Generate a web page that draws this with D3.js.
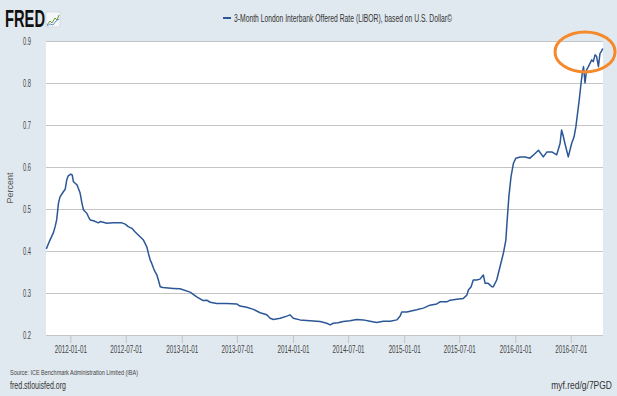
<!DOCTYPE html>
<html>
<head>
<meta charset="utf-8">
<script src="https://cdn.jsdelivr.net/npm/d3@7"></script>
<style>
  body { margin: 0; background: #e1e9f0; }
  svg { display: block; font-family: "Liberation Sans", Arial, sans-serif; }
</style>
</head>
<body>
<div id="chart"></div>
<script>
// 3-Month LIBOR (USD)
const dates = [
  "2011-10-14", "2011-10-26", "2011-11-06", "2011-11-12", "2011-11-17", "2011-11-23", "2011-11-28",
  "2011-12-09", "2011-12-15", "2011-12-20", "2011-12-25", "2012-01-02", "2012-01-07", "2012-01-11",
  "2012-01-16", "2012-01-23", "2012-02-02", "2012-02-08", "2012-02-13", "2012-02-18", "2012-02-24",
  "2012-02-29", "2012-03-06", "2012-03-17", "2012-04-02", "2012-04-08", "2012-04-30", "2012-05-20",
  "2012-06-18", "2012-06-29", "2012-07-09", "2012-07-21", "2012-07-31", "2012-08-17", "2012-08-28",
  "2012-09-08", "2012-09-13", "2012-09-19", "2012-09-24", "2012-09-30", "2012-10-05", "2012-10-11",
  "2012-10-16", "2012-10-22", "2012-10-31", "2012-12-04", "2012-12-26", "2013-01-28", "2013-02-19",
  "2013-03-12", "2013-03-24", "2013-04-04", "2013-04-26", "2013-05-29", "2013-06-30", "2013-07-11",
  "2013-08-02", "2013-08-24", "2013-09-15", "2013-10-07", "2013-10-18", "2013-10-29", "2013-11-20",
  "2013-12-12", "2013-12-22", "2014-01-02", "2014-01-24", "2014-02-26", "2014-03-31", "2014-04-22",
  "2014-05-03", "2014-05-13", "2014-05-29", "2014-06-15", "2014-07-07", "2014-07-29", "2014-08-20",
  "2014-09-11", "2014-10-03", "2014-10-25", "2014-11-16", "2014-12-08", "2014-12-19", "2014-12-24",
  "2015-01-10", "2015-02-11", "2015-03-05", "2015-03-27", "2015-04-18", "2015-04-29", "2015-05-21",
  "2015-06-01", "2015-06-23", "2015-07-14", "2015-07-26", "2015-07-31", "2015-08-09", "2015-08-16",
  "2015-08-27", "2015-09-07", "2015-09-18", "2015-09-24", "2015-10-04", "2015-10-16", "2015-10-21",
  "2015-11-01", "2015-11-12", "2015-11-23", "2015-12-01", "2015-12-05", "2015-12-11", "2015-12-18",
  "2015-12-26", "2016-01-03", "2016-01-17", "2016-02-02", "2016-02-18", "2016-03-06", "2016-03-17",
  "2016-04-02", "2016-04-14", "2016-04-30", "2016-05-16", "2016-05-27", "2016-06-01", "2016-06-07",
  "2016-06-12", "2016-06-23", "2016-07-04", "2016-07-12", "2016-07-18", "2016-07-29", "2016-08-04",
  "2016-08-08", "2016-08-12", "2016-08-17", "2016-08-22", "2016-08-28", "2016-09-08", "2016-09-13",
  "2016-09-19", "2016-09-24", "2016-09-30", "2016-10-05", "2016-10-11", "2016-10-14"
];
const rates = [
  0.405, 0.426, 0.443, 0.458, 0.474, 0.514, 0.529,
  0.541, 0.547, 0.569, 0.579, 0.583, 0.581, 0.565,
  0.562, 0.557, 0.538, 0.514, 0.498, 0.494, 0.490,
  0.482, 0.474, 0.472, 0.467, 0.470, 0.466, 0.467,
  0.467, 0.464, 0.458, 0.454, 0.446, 0.434, 0.426,
  0.410, 0.395, 0.379, 0.371, 0.359, 0.351, 0.343,
  0.331, 0.315, 0.313, 0.311, 0.310, 0.302, 0.291,
  0.282, 0.283, 0.278, 0.275, 0.275, 0.274, 0.269,
  0.266, 0.261, 0.253, 0.248, 0.240, 0.237, 0.240,
  0.245, 0.248, 0.240, 0.236, 0.234, 0.232, 0.228,
  0.224, 0.228, 0.229, 0.232, 0.234, 0.237, 0.236,
  0.233, 0.230, 0.233, 0.233, 0.236, 0.245, 0.255,
  0.255, 0.260, 0.264, 0.271, 0.274, 0.279, 0.279,
  0.283, 0.285, 0.287, 0.295, 0.307, 0.315, 0.331,
  0.331, 0.333, 0.343, 0.323, 0.323, 0.315, 0.315,
  0.331, 0.363, 0.395, 0.426, 0.470, 0.530, 0.577,
  0.609, 0.621, 0.624, 0.624, 0.621, 0.632, 0.640,
  0.624, 0.636, 0.636, 0.629, 0.656, 0.688, 0.672,
  0.656, 0.624, 0.656, 0.672, 0.696, 0.760, 0.800,
  0.823, 0.839, 0.800, 0.831, 0.839, 0.855, 0.851,
  0.867, 0.863, 0.839, 0.870, 0.877, 0.882
];
const yTicks = [0.2, 0.3, 0.4, 0.5, 0.6, 0.7, 0.8, 0.9];
const xTickLabels = ["2012-01-01", "2012-07-01", "2013-01-01", "2013-07-01", "2014-01-01",
  "2014-07-01", "2015-01-01", "2015-07-01", "2016-01-01", "2016-07-01"];
const seriesName = "3-Month London Interbank Offered Rate (LIBOR), based on U.S. Dollar\u00A9";

const width = 617;
const height = 396;
const margin = { top: 41, right: 14, bottom: 61, left: 46 };
const parse = d3.timeParse("%Y-%m-%d");
const lineColor = "#2b5797";

const data = dates.map((d, i) => ({ date: parse(d), value: rates[i] }));

const x = d3.scaleTime()
    .domain([parse("2011-10-13"), parse("2016-10-15")])
    .range([margin.left, width - margin.right]);

const y = d3.scaleLinear()
    .domain([0.2, 0.9])
    .range([height - margin.bottom, margin.top]);

const svg = d3.select("#chart")
    .append("svg")
    .attr("width", width)
    .attr("height", height);

svg.append("rect")
    .attr("width", width)
    .attr("height", height)
    .attr("fill", "#e1e9f0");

// plot area
svg.append("rect")
    .attr("x", margin.left)
    .attr("y", margin.top)
    .attr("width", width - margin.left - margin.right)
    .attr("height", height - margin.top - margin.bottom)
    .attr("fill", "#ffffff");

// y grid + labels
const yAxis = svg.append("g")
    .attr("transform", `translate(${margin.left},0)`)
    .call(d3.axisLeft(y)
        .tickValues(yTicks)
        .tickFormat(d3.format(".1f"))
        .tickSize(-(width - margin.left - margin.right))
        .tickPadding(15));
yAxis.select(".domain").remove();
yAxis.selectAll(".tick line")
    .attr("stroke", "#c4c4c4")
    .attr("stroke-width", 1);
yAxis.selectAll(".tick text")
    .attr("fill", "#444")
    .attr("font-size", "10px")
    .attr("textLength", 8)
    .attr("lengthAdjust", "spacingAndGlyphs");

// x axis
const xAxis = svg.append("g")
    .attr("transform", `translate(0,${height - margin.bottom})`)
    .call(d3.axisBottom(x)
        .tickValues(xTickLabels.map(parse))
        .tickFormat(d3.timeFormat("%Y-%m-%d"))
        .tickSize(8)
        .tickPadding(3));
xAxis.select(".domain").remove();
xAxis.selectAll(".tick line").attr("stroke", "#c4c4c4");
xAxis.selectAll(".tick text")
    .attr("fill", "#444")
    .attr("font-size", "10px")
    .attr("textLength", 32)
    .attr("lengthAdjust", "spacingAndGlyphs");

// y axis title
svg.append("text")
    .attr("transform", `translate(13,${(margin.top + height - margin.bottom) / 2}) rotate(-90)`)
    .attr("text-anchor", "middle")
    .attr("font-size", "9px")
    .attr("fill", "#555")
    .text("Percent");

// the series
const line = d3.line()
    .x(d => x(d.date))
    .y(d => y(d.value));

svg.append("path")
    .datum(data)
    .attr("fill", "none")
    .attr("stroke", lineColor)
    .attr("stroke-width", 1.5)
    .attr("stroke-linejoin", "round")
    .attr("d", line);

// legend
svg.append("line")
    .attr("x1", 223).attr("x2", 231)
    .attr("y1", 18).attr("y2", 18)
    .attr("stroke", lineColor)
    .attr("stroke-width", 2);
svg.append("text")
    .attr("x", 234)
    .attr("y", 21.5)
    .attr("font-size", "10px")
    .attr("fill", "#333")
    .attr("textLength", 218)
    .attr("lengthAdjust", "spacingAndGlyphs")
    .text(seriesName);

// FRED logo
svg.append("text")
    .attr("x", 5)
    .attr("y", 27)
    .attr("font-size", "23px")
    .attr("font-weight", "bold")
    .attr("fill", "#111")
    .attr("textLength", 40)
    .attr("lengthAdjust", "spacingAndGlyphs")
    .text("FRED");
const logo = svg.append("g").attr("transform", "translate(46,12)");
logo.append("rect")
    .attr("width", 14).attr("height", 15)
    .attr("fill", "#f4f6f8")
    .attr("stroke", "#c9d0d6")
    .attr("stroke-width", 0.6);
logo.append("path")
    .attr("d", "M1,13 L4,9 L6,11 L9,6 L11,8 L13,3")
    .attr("fill", "none")
    .attr("stroke", "#6b9a3c")
    .attr("stroke-width", 1);
logo.append("path")
    .attr("d", "M1,14 L4,12 L7,13 L10,9 L13,7")
    .attr("fill", "none")
    .attr("stroke", "#4a7ab5")
    .attr("stroke-width", 0.8);

// footer
svg.append("text")
    .attr("x", 10)
    .attr("y", 375)
    .attr("font-size", "8px")
    .attr("fill", "#444")
    .attr("textLength", 128)
    .attr("lengthAdjust", "spacingAndGlyphs")
    .text("Source: ICE Benchmark Administration Limited (IBA)");
svg.append("text")
    .attr("x", 10)
    .attr("y", 389)
    .attr("font-size", "10px")
    .attr("fill", "#333")
    .attr("textLength", 56)
    .attr("lengthAdjust", "spacingAndGlyphs")
    .text("fred.stlouisfed.org");
svg.append("text")
    .attr("transform", "translate(612,389) scale(0.85,1)")
    .attr("text-anchor", "end")
    .attr("font-size", "10px")
    .attr("fill", "#333")
    .text("myf.red/g/7PGD");

// orange highlight circle
svg.append("ellipse")
    .attr("cx", x(parse("2016-08-17")))
    .attr("cy", y(0.874))
    .attr("rx", 30)
    .attr("ry", 20)
    .attr("fill", "none")
    .attr("stroke", "#f5892b")
    .attr("stroke-width", 3);
</script>
</body>
</html>
